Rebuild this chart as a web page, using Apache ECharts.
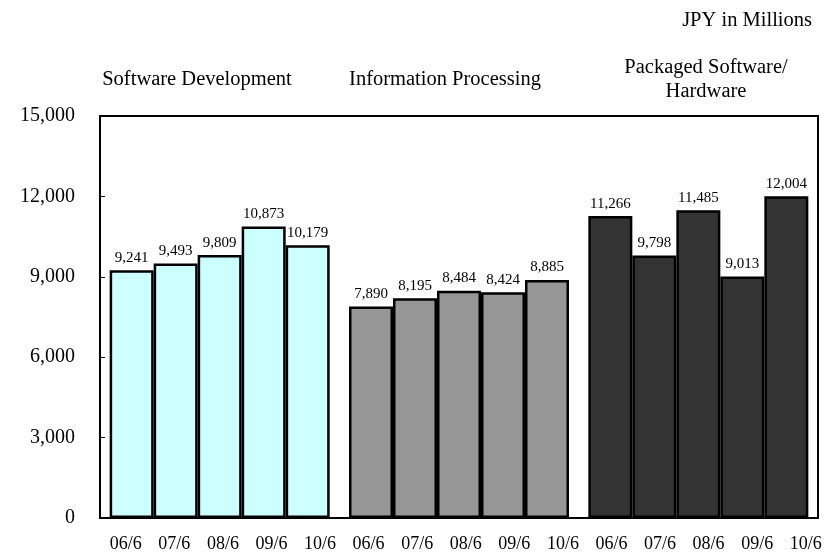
<!DOCTYPE html>
<html>
<head>
<meta charset="utf-8">
<title>Sales by segment</title>
<style>
  html, body { margin: 0; padding: 0; background: #fff; }
  #main { width: 830px; height: 553px; }
</style>
</head>
<body>
<div id="main"></div>
<script src="https://cdn.jsdelivr.net/npm/echarts@6/dist/echarts.min.js"></script>
<script type="text/javascript">
    // data
    var groups = ['Software Development', 'Information Processing', 'Packaged Software/\nHardware'];
    var years = ['06/6', '07/6', '08/6', '09/6', '10/6'];
    var softwareDev = [9241, 9493, 9809, 10873, 10179];
    var infoProcessing = [7890, 8195, 8484, 8424, 8885];
    var packagedHw = [11266, 9798, 11485, 9013, 12004];
    var yTicks = [0, 3000, 6000, 9000, 12000, 15000];

    var groupValues = [softwareDev, infoProcessing, packagedHw];
    var groupColors = ['#ccffff', '#969696', '#333333'];
    var font = "'Liberation Serif', 'Times New Roman', serif";

    function fmt(v) {
        return Number(v).toLocaleString('en-US');
    }

    // one series per year, bars coloured by group
    var series = years.map(function (y, i) {
        return {
            name: y,
            type: 'bar',
            xAxisIndex: 0,
            yAxisIndex: 0,
            barWidth: 44,
            barGap: '0%',
            data: groupValues.map(function (vals, g) {
                return {
                    value: vals[i],
                    itemStyle: { color: groupColors[g] }
                };
            }),
            itemStyle: { borderColor: '#000', borderWidth: 2.5 },
            label: {
                show: true,
                position: 'top',
                distance: 5,
                color: '#000',
                fontFamily: font,
                fontSize: 15,
                formatter: function (p) { return fmt(p.value); }
            },
            emphasis: { disabled: true },
            animation: false
        };
    });

    // labels under the axis are spread evenly, like the original
    var xLabels = [];
    groups.forEach(function () {
        years.forEach(function (y) { xLabels.push(y); });
    });

    var titleX = [197, 445, 706];

    var myChart = echarts.init(document.getElementById('main'));
    var option = {
        animation: false,
        backgroundColor: '#fff',
        grid: [
            {
                left: 100, right: 12, top: 116, bottom: 35,
                show: true, borderColor: '#000', borderWidth: 2,
                backgroundColor: 'transparent'
            },
            { left: 101.5, width: 735, top: 116, bottom: 35 }
        ],
        xAxis: [
            {
                type: 'category',
                gridIndex: 0,
                data: groups,
                axisLine: { lineStyle: { color: '#000', width: 2 } },
                axisTick: { inside: true, length: 4, lineStyle: { color: '#000', width: 1 } },
                axisLabel: { show: false },
                splitLine: { show: false }
            },
            {
                type: 'category',
                gridIndex: 1,
                data: xLabels,
                axisLine: { show: false },
                axisTick: { show: false },
                splitLine: { show: false },
                axisLabel: {
                    interval: 0,
                    margin: 23,
                    color: '#000',
                    fontFamily: font,
                    fontSize: 18
                }
            }
        ],
        yAxis: [
            {
                type: 'value',
                gridIndex: 0,
                min: yTicks[0],
                max: yTicks[yTicks.length - 1],
                interval: yTicks[1] - yTicks[0],
                axisLine: { show: true, lineStyle: { color: '#000', width: 2 } },
                axisTick: { show: true, inside: true, length: 5, lineStyle: { color: '#000', width: 1 } },
                splitLine: { show: false },
                axisLabel: {
                    margin: 25,
                    color: '#000',
                    fontFamily: font,
                    fontSize: 20,
                    formatter: function (v) { return fmt(v); }
                }
            },
            { type: 'value', gridIndex: 1, show: false }
        ],
        graphic: [
            {
                type: 'text',
                x: 812, y: 21,
                style: {
                    text: 'JPY in Millions',
                    align: 'right',
                    verticalAlign: 'middle',
                    fill: '#000',
                    font: '20.5px ' + font
                }
            }
        ].concat(groups.map(function (g, i) {
            return {
                type: 'text',
                x: titleX[i], y: 80,
                style: {
                    text: g,
                    align: 'center',
                    verticalAlign: 'middle',
                    lineHeight: 24,
                    fill: '#000',
                    font: '20.5px ' + font
                }
            };
        })),
        series: series
    };
    myChart.setOption(option);
</script>
</body>
</html>
